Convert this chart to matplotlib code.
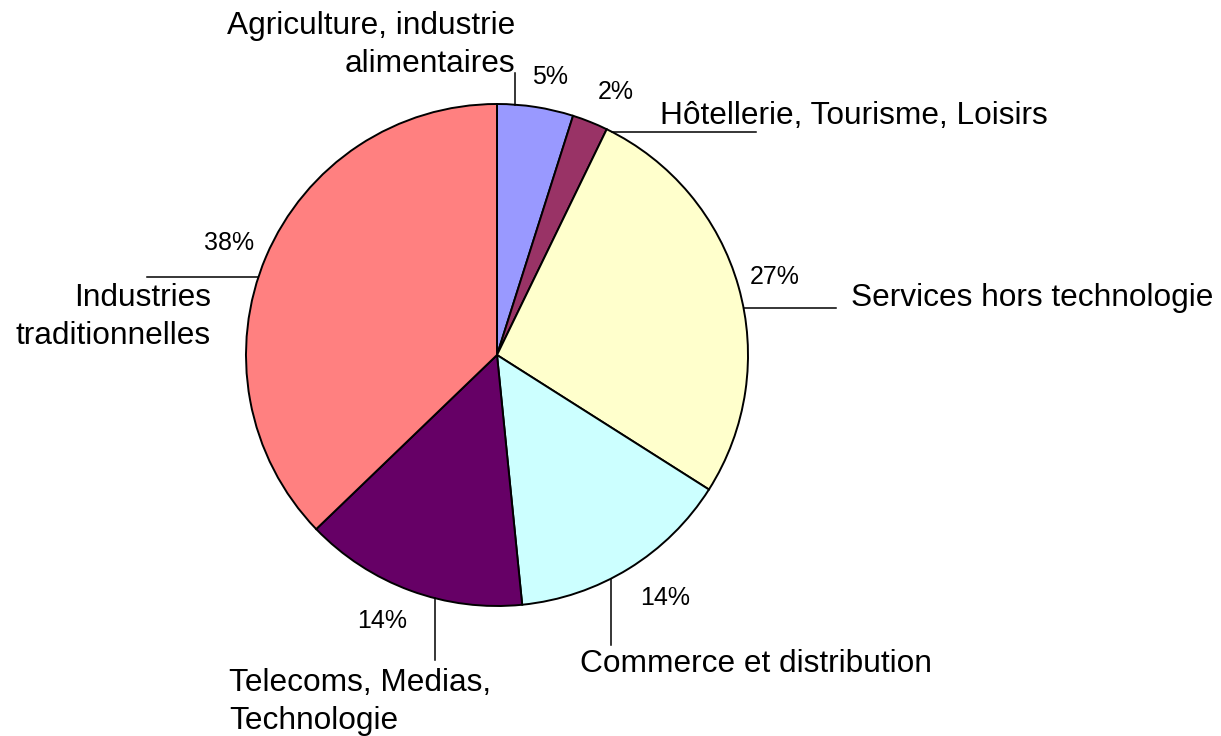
import matplotlib
matplotlib.use("Agg")
import matplotlib.pyplot as plt
import numpy as np

plt.rcParams['font.family'] = ['Liberation Sans', 'DejaVu Sans']

# données
secteurs = ['Agriculture, industrie\nalimentaires', 'Hôtellerie, Tourisme, Loisirs',
            'Services hors technologie', 'Commerce et distribution',
            'Telecoms, Medias,\nTechnologie', 'Industries\ntraditionnelles']
parts = [4.9, 2.3, 26.8, 14.4, 14.4, 37.2]
pourcents = ['5%', '2%', '27%', '14%', '14%', '38%']
couleurs = ['#9999FF', '#993366', '#FFFFCC', '#CCFFFF', '#660066', '#FF8080']

W, H = 1221, 736
fig = plt.figure(figsize=(W / 100, H / 100), dpi=100)
ax = fig.add_axes([0, 0, 1, 1])

cx, cy, r = 497, H - 355, 251
ax.pie(parts, colors=couleurs, startangle=90, counterclock=False,
       center=(cx, cy), radius=r, frame=True,
       wedgeprops=dict(edgecolor='black', linewidth=1.4))
ax.set_xlim(0, W)
ax.set_ylim(0, H)
ax.set_aspect('equal')
ax.axis('off')


def bord(angle):
    a = np.radians(angle)
    return cx + r * np.sin(a), cy + r * np.cos(a)


# lignes de rappel : angle sur le bord, sens, extrémité (pixels, y vers le bas)
rappels = [(4.1, 'v', 73), (27.3, 'h', 756), (79.2, 'h', 836),
           (153.1, 'v', 645), (194.4, 'v', 660), (288, 'h', 147)]
for angle, sens, fin in rappels:
    x0, y0 = bord(angle)
    if sens == 'v':
        ax.plot([x0, x0], [y0, H - fin], color='black', lw=1.1)
    else:
        ax.plot([x0, fin], [y0, y0], color='black', lw=1.1)

# positions des textes (pixels, y vers le bas)
pos_noms = [(515, 45, 'right'), (660, 116, 'left'), (851, 298, 'left'),
            (580, 664, 'left'), (229, 702, 'left'), (211, 317, 'right')]
pos_pct = [(550, 77), (616, 92), (775, 277), (665, 598), (382, 621), (229, 243)]

for nom, (x, y, ha) in zip(secteurs, pos_noms):
    ax.text(x, H - y, nom, ha=ha, va='center', fontsize=22.8,
            linespacing=1.33, multialignment=ha)
for p, (x, y) in zip(pourcents, pos_pct):
    ax.text(x, H - y, p, ha='center', va='center', fontsize=18)

fig.savefig('out.png', dpi=100)
